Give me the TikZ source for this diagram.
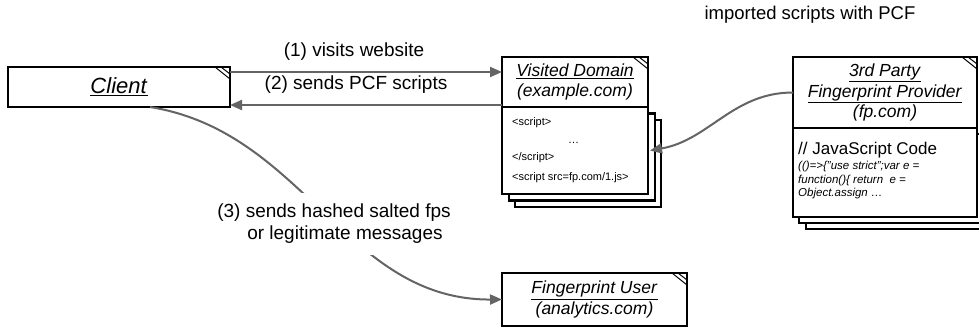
\documentclass[tikz,border=0pt]{standalone}
\usepackage{fontspec}
\setmainfont{Liberation Sans}
\usetikzlibrary{arrows.meta}
\definecolor{arrowgray}{RGB}{100,100,100}
\begin{document}
\begin{tikzpicture}[x=1pt,y=-1pt,
  box/.style={draw=black, line width=2.2pt, fill=white, inner sep=0pt, outer sep=0pt, align=center},
  hdr/.style={font=\fontsize{17.5}{20.5}\selectfont},
  conn/.style={draw=arrowgray, line width=2pt, -{Triangle[length=12pt,width=10pt]}},
  lbl/.style={font=\fontsize{19}{22}\selectfont, text=black, inner sep=0pt},
  code/.style={font=\fontsize{11}{13}\selectfont, inner sep=0pt, anchor=west},
  icode/.style={font=\fontsize{11.5}{13}\selectfont\itshape, inner sep=0pt, anchor=west},
  ear/.style={line width=1pt}
]
\clip (0,0) rectangle (979,329);
\fill[white] (0,0) rectangle (979,329);

% Client
\node[box, minimum width=222pt, minimum height=40pt, font=\fontsize{22}{24}\selectfont] (client) at (119,87) {\underline{\textit{Client}}};

% Visited Domain stack
\node[box, minimum width=146pt, minimum height=87pt] (vdb3) at (588,163.5) {};
\node[box, minimum width=146pt, minimum height=87pt] (vdb2) at (582,157) {};
\node[box, minimum width=146pt, minimum height=87pt] (vdb) at (575,150.5) {};
\node[box, hdr, minimum width=146pt, minimum height=50pt] (vdh) at (575,82) {\underline{\textit{Visited Domain}}\\\textit{(example.com)}};
\node[code] (s1) at (512,123) {<script>};
\node[code] (s2) at (568,143) {…};
\node[code] (s3) at (512,158) {</script>};
\node[code] (s4) at (512,178) {<script src=fp.com/1.js>};

% 3rd party stack
\node[box, minimum width=184pt, minimum height=89pt] (fpb3) at (898,184.5) {};
\node[box, minimum width=184pt, minimum height=89pt] (fpb2) at (891,178.5) {};
\node[box, minimum width=184pt, minimum height=89pt] (fpb) at (885,172.5) {};
\node[box, hdr, minimum width=184pt, minimum height=71pt] (fph) at (885,92.5) {\underline{\textit{3rd Party}}\\\underline{\textit{Fingerprint Provider}}\\\textit{(fp.com)}};
\node[code, font=\fontsize{17}{19}\selectfont] (js) at (798,150) {// JavaScript Code};
\node[icode] (j1) at (798,167) {(()=>\{"use strict";var e =};
\node[icode] (j2) at (798,181) {function()\{ return~ e =};
\node[icode] (j3) at (798,194) {Object.assign …};

% Fingerprint User
\node[box, hdr, minimum width=185pt, minimum height=53pt] (fu) at (594.5,299.5) {\underline{\textit{Fingerprint User}}\\\textit{(analytics.com)}};

% dog ears
\foreach \n in {client,vdh,fph,fu}{
  \draw[ear] ([xshift=-15pt]\n.north east) -- ([yshift=-12pt]\n.north east);
  \draw[ear] ([xshift=-9pt]\n.north east) -- ([yshift=-7pt]\n.north east);
}

% connectors
\coordinate (r1) at (0,72);
\coordinate (r2) at (0,105);
\draw[conn] (client.east |- r1) -- (vdh.west |- r1);
\draw[conn] (vdh.west |- r2) -- (client.east |- r2);
\draw[conn] (fph.west) to[out=180,in=10] ([xshift=2pt]vdb.east);
\draw[conn] ([xshift=31pt]client.south) .. controls (305,132) and (345,300) .. (fu.west);

% labels
\node[lbl] (l1) at (354,52) {(1) visits website};
\node[lbl] (l2) at (356,85) {(2) sends PCF scripts};
\node[lbl, font=\fontsize{18.5}{22}\selectfont] (top) at (810,15) {imported scripts with PCF};
\node[lbl, fill=white, align=left, inner xsep=4pt, inner ysep=11pt] (l3) at (334,224) {(3) sends hashed salted fps\\\hspace{30pt}or legitimate messages};
\end{tikzpicture}
\end{document}
